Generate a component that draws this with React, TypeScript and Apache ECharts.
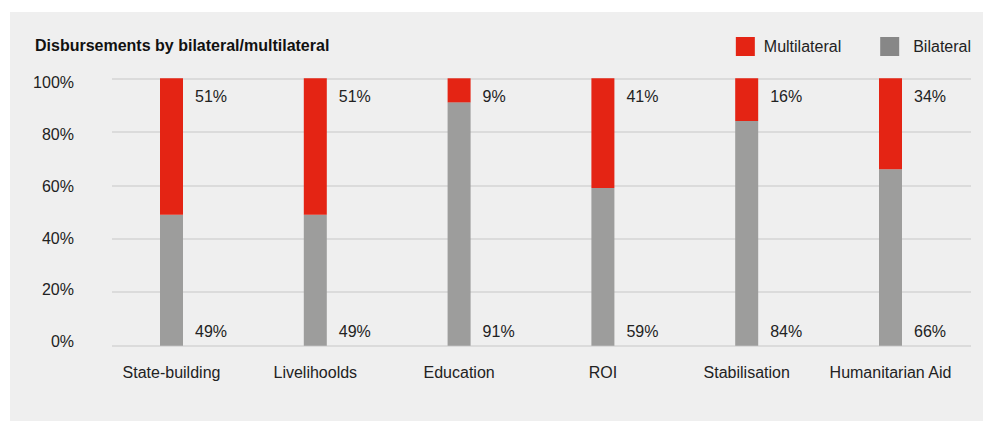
import React, { useEffect, useRef } from "react";
import * as echarts from "echarts";

const categories = ["State-building", "Livelihoolds", "Education", "ROI", "Stabilisation", "Humanitarian Aid"];
const multilateral = [51, 51, 9, 41, 16, 34];
const bilateral = [49, 49, 91, 59, 84, 66];
const yTicks = [0, 20, 40, 60, 80, 100];

const FONT = "'Liberation Sans', Arial, Helvetica, sans-serif";
const RED = "#e42414";
const GRAY = "#9d9d9c";
const TXT = "#222222";

export default function App() {
  const ref = useRef<HTMLDivElement>(null);
  useEffect(() => {
    if (!ref.current) return;
    const chart = echarts.init(ref.current, undefined, { renderer: "svg" });
    const top = 78.3;
    const bottom = 421 - 345.7;
    chart.setOption({
      animation: false,
      backgroundColor: "#ffffff",
      textStyle: { fontFamily: FONT },
      graphic: [
        {
          type: "rect",
          z: -10,
          silent: true,
          shape: { x: 10, y: 12, width: 973, height: 409 },
          style: { fill: "#efefef" },
        },
      ],
      title: {
        text: "Disbursements by bilateral/multilateral",
        left: 35,
        top: 37,
        padding: 0,
        textStyle: { fontFamily: FONT, fontSize: 16, fontWeight: "bold", color: "#111" },
      },
      legend: {
        data: [
          {
            name: "Multilateral",
            itemStyle: { color: RED },
            textStyle: { fontFamily: FONT, fontSize: 16, color: TXT, padding: [0, 0, 0, 4] },
          },
          {
            name: "Bilateral",
            itemStyle: { color: "#878787" },
            textStyle: { fontFamily: FONT, fontSize: 16, color: TXT, padding: [0, 0, 0, 9] },
          },
        ],
        right: 12,
        top: 37,
        padding: 0,
        itemWidth: 19,
        itemHeight: 19,
        itemGap: 39,
        icon: "rect",
        textStyle: { fontFamily: FONT, fontSize: 16, color: TXT, padding: [0, 0, 0, 4] },
      },
      grid: [
        { left: 112, right: 12, top, bottom },
        { left: 99.6, width: 862.8, top, bottom },
        { left: 112, right: 12, top: 82.7, height: 259 },
      ],
      xAxis: [
        { type: "category", gridIndex: 0, data: categories, show: false },
        {
          type: "category",
          gridIndex: 1,
          data: categories,
          axisLine: { show: false },
          axisTick: { show: false },
          axisLabel: { fontFamily: FONT, fontSize: 16, color: TXT, margin: 19, interval: 0 },
        },
        { type: "category", gridIndex: 2, data: categories, show: false },
      ],
      yAxis: [
        {
          type: "value",
          gridIndex: 0,
          min: 0,
          max: 100,
          interval: 20,
          axisLabel: { show: false },
          axisLine: { show: false },
          axisTick: { show: false },
          splitLine: { lineStyle: { color: "#d4d4d4", width: 1.5 } },
        },
        { type: "value", gridIndex: 1, min: 0, max: 100, show: false, splitLine: { show: false } },
        {
          type: "value",
          gridIndex: 2,
          min: 0,
          max: 100,
          interval: 20,
          data: yTicks,
          axisLine: { show: false },
          axisTick: { show: false },
          splitLine: { show: false },
          axisLabel: {
            fontFamily: FONT,
            fontSize: 16,
            color: TXT,
            margin: 38,
            formatter: (v: number) => `${v}%`,
          },
        },
      ],
      series: [
        {
          name: "Bilateral",
          type: "bar",
          stack: "s",
          xAxisIndex: 1,
          yAxisIndex: 1,
          barWidth: 23,
          data: bilateral,
          itemStyle: { color: GRAY },
          label: {
            show: true,
            position: ["100%", "100%"],
            offset: [12, -14],
            align: "left",
            verticalAlign: "middle",
            fontFamily: FONT,
            fontSize: 16,
            color: TXT,
            formatter: "{c}%",
          },
        },
        {
          name: "Multilateral",
          type: "bar",
          stack: "s",
          xAxisIndex: 1,
          yAxisIndex: 1,
          barWidth: 23,
          data: multilateral,
          itemStyle: { color: RED },
          label: {
            show: true,
            position: ["100%", 0],
            offset: [12, 18.5],
            align: "left",
            verticalAlign: "middle",
            fontFamily: FONT,
            fontSize: 16,
            color: TXT,
            formatter: "{c}%",
          },
        },
      ],
    });
    return () => chart.dispose();
  }, []);
  return (
    <div
      ref={ref}
      style={{ position: "fixed", left: 0, top: 0, width: 983, height: 421 }}
    />
  );
}
